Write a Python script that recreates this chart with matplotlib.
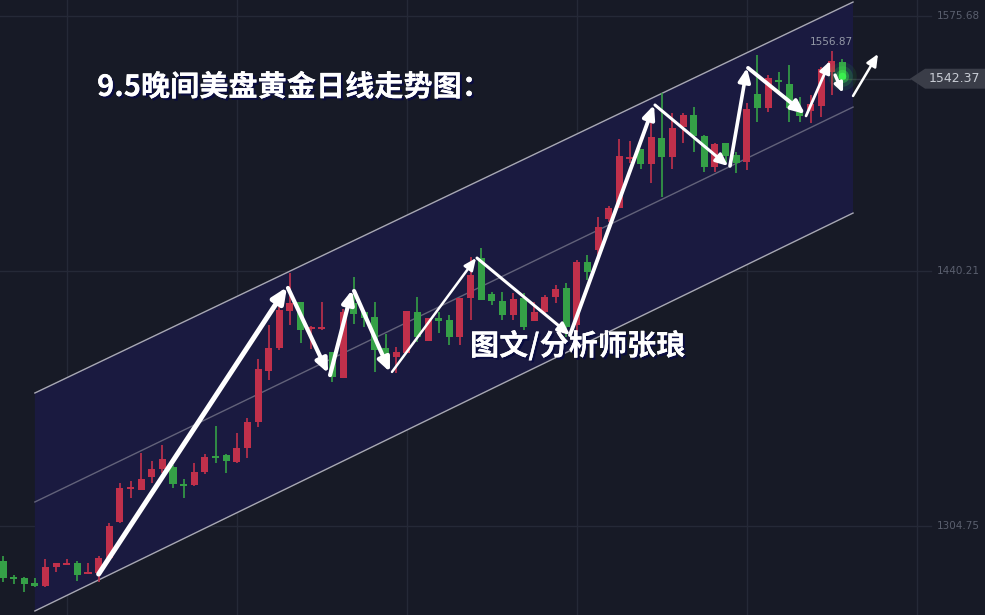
import numpy as np
import matplotlib
matplotlib.use("Agg")
from matplotlib import pyplot as plt
from matplotlib import patheffects as pe

plt.rcParams['font.family'] = ['Noto Sans CJK SC', 'DejaVu Sans']

# daily gold candles (open, high, low, close)
opens = [1286.2, 1277.1, 1277.1, 1274.5, 1272.9, 1283.0, 1284.0, 1285.1, 1279.2, 1279.8,
         1287.7, 1306.9, 1324.4, 1323.9, 1330.8, 1335.0, 1336.1, 1327.1, 1326.5, 1333.4,
         1341.9, 1342.5, 1338.8, 1346.2, 1360.0, 1387.1, 1399.3, 1419.0, 1423.8, 1409.4,
         1409.4, 1397.2, 1383.3, 1423.2, 1418.4, 1415.8, 1399.3, 1394.5, 1396.6, 1418.4,
         1403.0, 1415.2, 1414.2, 1405.1, 1425.9, 1447.1, 1428.0, 1424.3, 1416.8, 1425.9,
         1413.6, 1418.4, 1426.4, 1431.2, 1411.5, 1445.0, 1451.4, 1467.8, 1473.7, 1499.7,
         1505.0, 1497.1, 1510.9, 1500.8, 1516.7, 1523.1, 1511.9, 1495.5, 1508.2, 1501.8,
         1498.1, 1534.2, 1526.8, 1541.7, 1539.6, 1524.7, 1525.2, 1527.9, 1545.9, 1551.2]
highs = [1288.8, 1278.7, 1277.6, 1277.1, 1287.2, 1285.1, 1287.2, 1286.2, 1285.1, 1288.8,
         1306.3, 1327.6, 1328.7, 1343.5, 1339.3, 1347.8, 1337.1, 1329.7, 1338.2, 1343.0,
         1357.9, 1343.0, 1354.2, 1362.1, 1393.5, 1411.5, 1421.1, 1439.2, 1423.8, 1411.0,
         1423.8, 1397.2, 1420.0, 1437.0, 1418.4, 1423.8, 1406.7, 1399.9, 1419.0, 1426.4,
         1415.2, 1418.4, 1416.8, 1425.9, 1447.6, 1452.4, 1429.0, 1429.0, 1428.5, 1428.5,
         1423.8, 1427.5, 1432.8, 1433.8, 1446.0, 1448.7, 1468.9, 1474.7, 1510.3, 1509.3,
         1505.0, 1524.7, 1534.8, 1524.1, 1524.1, 1527.4, 1512.5, 1508.2, 1508.2, 1503.4,
         1529.5, 1555.0, 1544.3, 1545.9, 1549.6, 1532.6, 1533.7, 1548.6, 1556.87, 1552.8]
lows = [1275.0, 1273.9, 1269.7, 1272.3, 1272.3, 1280.3, 1284.0, 1275.5, 1279.2, 1275.0,
        1287.7, 1306.3, 1319.6, 1323.9, 1327.6, 1332.9, 1324.9, 1319.6, 1326.0, 1332.4,
        1338.2, 1332.9, 1338.2, 1340.9, 1357.3, 1382.3, 1398.2, 1411.5, 1402.0, 1398.8,
        1408.9, 1381.2, 1383.3, 1412.1, 1410.5, 1386.6, 1391.9, 1386.0, 1396.6, 1402.5,
        1403.0, 1407.3, 1400.9, 1400.9, 1414.2, 1424.8, 1422.2, 1414.2, 1414.2, 1408.9,
        1413.6, 1416.8, 1423.2, 1405.1, 1407.8, 1435.4, 1448.7, 1466.2, 1473.7, 1497.6,
        1494.4, 1486.9, 1479.5, 1494.4, 1508.2, 1503.4, 1492.8, 1492.8, 1497.6, 1492.3,
        1493.9, 1519.4, 1524.7, 1533.7, 1519.4, 1519.4, 1518.8, 1522.0, 1533.7, 1540.1]
closes = [1277.1, 1276.6, 1273.9, 1272.9, 1283.0, 1285.1, 1285.1, 1278.7, 1280.3, 1287.7,
          1304.8, 1324.9, 1325.5, 1329.7, 1335.0, 1340.3, 1327.1, 1326.0, 1333.4, 1341.4,
          1340.9, 1339.3, 1346.2, 1360.0, 1388.2, 1399.3, 1419.5, 1423.2, 1408.9, 1410.5,
          1410.5, 1383.9, 1418.4, 1417.4, 1415.2, 1398.2, 1394.5, 1397.2, 1419.0, 1405.1,
          1415.2, 1413.6, 1405.1, 1425.9, 1438.1, 1424.8, 1424.3, 1416.8, 1425.3, 1410.5,
          1418.4, 1426.4, 1430.6, 1410.5, 1445.0, 1439.7, 1463.6, 1473.7, 1501.3, 1500.8,
          1497.1, 1511.4, 1500.8, 1516.2, 1523.1, 1511.9, 1495.5, 1507.7, 1501.3, 1497.6,
          1526.3, 1526.8, 1542.7, 1540.6, 1526.8, 1522.6, 1528.9, 1547.5, 1551.8, 1542.37]

price_ticks = [1575.68, 1440.21, 1304.75]
last_price = 1542.37
top_price = 1556.87

# channel lines: (start bar, start price, end bar, end price)
channel_upper = (3.0, 1375.4, 80.0, 1583.1)
channel_mid = (3.0, 1317.5, 80.0, 1527.3)
channel_lower = (3.0, 1259.6, 80.0, 1471.0)

# hand drawn arrows: start bar, start price, tip bar, tip price
arrow_x0 = [9.0, 26.82, 30.78, 33.04, 36.61, 44.61, 53.36, 61.36, 68.42, 70.12, 75.58, 78.31, 80.0]
arrow_y0 = [1279.2, 1431.2, 1384.9, 1429.6, 1386.6, 1447.1, 1406.2, 1528.4, 1496.0, 1548.1, 1522.6, 1544.3, 1533.2]
arrow_x1 = [26.73, 30.59, 32.85, 36.42, 44.52, 53.36, 61.27, 68.24, 70.02, 75.48, 77.84, 79.06, 82.35]
arrow_y1 = [1431.7, 1386.0, 1430.1, 1386.6, 1447.1, 1406.2, 1528.4, 1496.0, 1548.1, 1523.6, 1551.8, 1534.8, 1555.5]
arrow_lw = [3.6, 3.0, 3.0, 3.0, 1.8, 2.2, 2.8, 2.2, 2.6, 2.8, 2.0, 2.4, 1.8]
arrow_head = [10, 9, 9, 9, 8, 8, 9, 8, 9, 9, 8, 6, 8]

title = "9.5晚间美盘黄金日线走势图："
author = "图文/分析师张琅"

BG = '#171a26'
RED = '#c0304b'
GREEN = '#35a047'

fig = plt.figure(figsize=(9.85, 6.15), dpi=100, facecolor=BG)
ax = fig.add_axes([0, 0, 1, 1])
ax.set_facecolor(BG)
ax.set_xlim(-0.282, 92.42)
ax.set_ylim(1257.46, 1584.18)
ax.axis('off')

# grid
for gx in [6, 22, 38, 54, 70, 86]:
    ax.axvline(gx, color='#252937', lw=1, zorder=0)
for p in price_ticks:
    ax.plot([-0.3, 87.3], [p, p], color='#252937', lw=1, zorder=0)
    ax.text(87.9, p, f"{p:.2f}", color='#5a5f6e', fontsize=7.5, va='center',
            ha='left', family='DejaVu Sans')

# channel shading and lines
xs = [channel_upper[0], channel_upper[2], channel_lower[2], channel_lower[0]]
ys = [channel_upper[1], channel_upper[3], channel_lower[3], channel_lower[1]]
ax.fill(xs, ys, color='#1a1a40', zorder=1, lw=0)
ax.plot(channel_upper[0::2], channel_upper[1::2], color='#a8a8b4', lw=1, zorder=2)
ax.plot(channel_mid[0::2], channel_mid[1::2], color='#62627a', lw=1, zorder=2)
ax.plot(channel_lower[0::2], channel_lower[1::2], color='#a8a8b4', lw=1, zorder=2)

# candles
o = np.array(opens); h = np.array(highs); l = np.array(lows); c = np.array(closes)
idx = np.arange(len(o))
cols = [RED if cc >= oo else GREEN for oo, cc in zip(o, c)]
ax.vlines(idx, l, h, colors=cols, lw=1.2, zorder=3)
bottoms = np.minimum(o, c)
heights = np.maximum(np.abs(c - o), 0.9)
ax.bar(idx, heights, bottom=bottoms, width=0.66, color=cols, zorder=4, lw=0)

# glow on the last candle
for r, a in [(420, 0.08), (220, 0.15), (90, 0.35), (30, 0.7)]:
    ax.scatter([idx[-1]], [last_price + 1.2], s=r, color='#3cff50', alpha=a, lw=0, zorder=5)

# arrows
for x0, y0, x1, y1, w, hs in zip(arrow_x0, arrow_y0, arrow_x1, arrow_y1, arrow_lw, arrow_head):
    ax.annotate("", xy=(x1, y1), xytext=(x0, y0), zorder=6,
                arrowprops=dict(arrowstyle='-|>,head_length=0.9,head_width=0.4',
                                color='white', lw=w, shrinkA=0, shrinkB=0,
                                mutation_scale=hs))

# last price marker
ax.plot([idx[-1], 85.4], [last_price, last_price], color='#343846', lw=1, zorder=2)
bx = [85.36, 86.78, 92.42, 92.42, 86.78]
by = [last_price, last_price + 5.3, last_price + 5.3, last_price - 5.3, last_price - 5.3]
ax.fill(bx, by, color='#3a3d48', lw=0, zorder=7)
ax.text(89.5, last_price, f"{last_price:.2f}", color='#c8ccd4', fontsize=9,
        ha='center', va='center', family='DejaVu Sans', zorder=8)
ax.text(78.0, top_price + 2.5, f"{top_price:.2f}", color='#9398a6', fontsize=7.5,
        ha='center', va='bottom', family='DejaVu Sans', zorder=8)

# texts
fx = [pe.withSimplePatchShadow(offset=(1.5, -1.5), shadow_rgbFace='#0a0c40', alpha=1),
      pe.Normal()]
ax.text(8.85, 1538.0, title, color='white', fontsize=21, fontweight='bold',
        ha='left', va='center', path_effects=fx, zorder=9)
ax.text(43.95, 1400.4, author, color='white', fontsize=21, fontweight='bold',
        ha='left', va='center', path_effects=fx, zorder=9)

fig.savefig("out.png", dpi=100, facecolor=BG)
